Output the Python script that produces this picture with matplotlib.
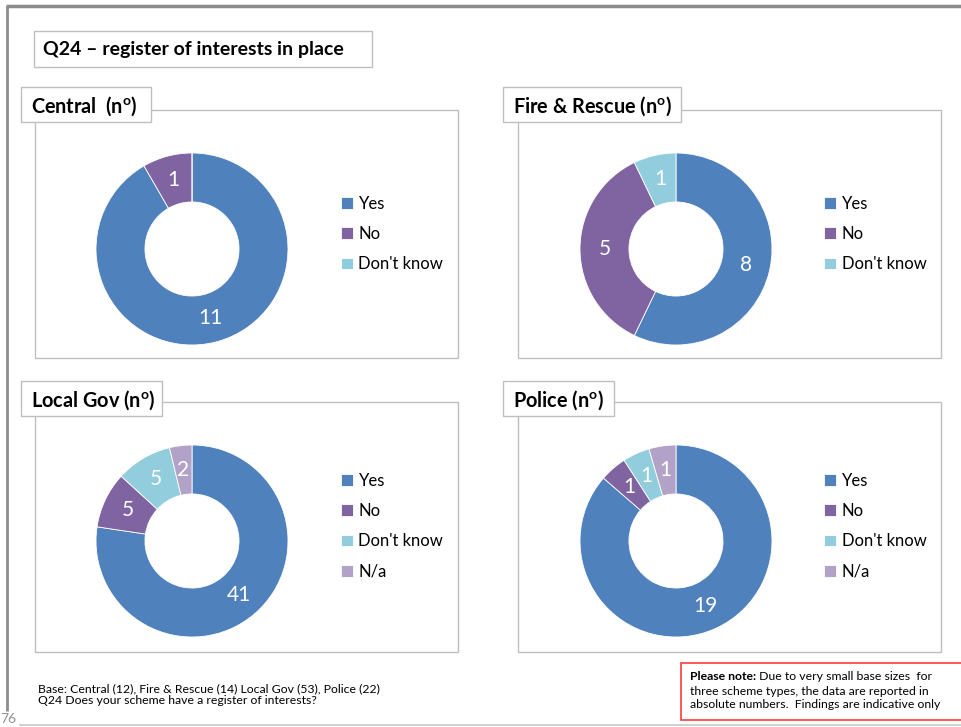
import matplotlib
matplotlib.use("Agg")
import matplotlib.pyplot as plt
from matplotlib.patches import Rectangle

plt.rcParams['font.family'] = ['Lato', 'DejaVu Sans']
plt.rcParams['mathtext.fontset'] = 'custom'
plt.rcParams['mathtext.rm'] = 'Lato'
plt.rcParams['mathtext.bf'] = 'Lato:bold'

# ---------------- data ----------------
title = "Q24 \u2013 register of interests in place"
panel_titles = ["Central  (n$^{\\mathbf{o}}$)", "Fire & Rescue (n$^{\\mathbf{o}}$)",
                "Local Gov (n$^{\\mathbf{o}}$)", "Police (n$^{\\mathbf{o}}$)"]
categories_3 = ["Yes", "No", "Don't know"]
categories_4 = ["Yes", "No", "Don't know", "N/a"]
central = [11, 1, 0]
fire_rescue = [8, 5, 1]
local_gov = [41, 5, 5, 2]
police = [19, 1, 1, 1]
colors = ["#4F81BD", "#8064A2", "#92CDDD", "#B3A2C7"]
base_text = "Base: Central (12), Fire & Rescue (14) Local Gov (53), Police (22)\nQ24 Does your scheme have a register of interests?"
note_bold = "Please note:"
note_text = " Due to very small base sizes  for\nthree scheme types, the data are reported in\nabsolute numbers.  Findings are indicative only"
page_no = "76"

W, H = 961, 727
fig = plt.figure(figsize=(W / 100, H / 100), dpi=100)
bg = fig.add_axes([0, 0, 1, 1], zorder=0)
bg.set_xlim(0, W)
bg.set_ylim(H, 0)
bg.axis("off")

# outer frame
bg.plot([7, 7], [6, 711], color="#8C8C8C", lw=2, solid_capstyle="butt")
bg.plot([6, W], [6, 6], color="#8C8C8C", lw=2.5, solid_capstyle="butt")
bg.plot([20, W], [725, 725], color="#C8C8C8", lw=1.2)
bg.text(0, 725, page_no, color="#909090", fontsize=10, va="bottom", ha="left")

# title box
bg.add_patch(Rectangle((34, 31), 338, 36, facecolor="white", edgecolor="#BFBFBF", lw=1))
bg.text(43, 49.5, title, fontsize=14, fontweight="bold", va="center", ha="left")

panels = [
    dict(data=central, cats=categories_3, title=panel_titles[0], box=(35, 110, 423, 248),
         hdr=(21, 87, 130, 35), center=(192, 249)),
    dict(data=fire_rescue, cats=categories_3, title=panel_titles[1], box=(518, 110, 423, 248),
         hdr=(503, 87, 178, 35), center=(676, 249)),
    dict(data=local_gov, cats=categories_4, title=panel_titles[2], box=(35, 402, 423, 250),
         hdr=(21, 381, 141, 35), center=(192, 541)),
    dict(data=police, cats=categories_4, title=panel_titles[3], box=(518, 402, 423, 250),
         hdr=(503, 381, 111, 35), center=(676, 541)),
]

R = 96
for p in panels:
    x, y, w, h = p["box"]
    bg.add_patch(Rectangle((x, y), w, h, facecolor="white", edgecolor="#BFBFBF", lw=1))
    hx, hy, hw, hh = p["hdr"]
    bg.add_patch(Rectangle((hx, hy), hw, hh, facecolor="white", edgecolor="#BFBFBF", lw=1))
    bg.text(hx + 10, hy + hh / 2 + 1.5, p["title"], fontsize=14.3, fontweight="bold",
            va="center", ha="left")

    cx, cy = p["center"]
    ax = fig.add_axes([(cx - R) / W, 1 - (cy + R) / H, 2 * R / W, 2 * R / H], zorder=2)
    vals = p["data"]
    total = sum(vals)
    wedges, _t, autot = ax.pie(
        vals, colors=colors[:len(vals)], startangle=90, counterclock=False,
        radius=1.0, wedgeprops=dict(width=0.51, edgecolor="white", linewidth=0.6),
        autopct=lambda pct, t=total: f"{round(pct * t / 100)}" if pct > 0 else "",
        pctdistance=0.745, textprops=dict(color="white", fontsize=15))
    ax.set_xlim(-1, 1)
    ax.set_ylim(-1, 1)
    ax.set_aspect("equal")
    ax.axis("off")

    leg = ax.legend(wedges, p["cats"], loc="center left",
                    bbox_to_anchor=(x + 306, cy - 15), bbox_transform=bg.transData,
                    frameon=False, fontsize=12, handlelength=0.7, handleheight=0.7,
                    handletextpad=0.35, labelspacing=0.86, borderpad=0, borderaxespad=0)

# base text
bg.text(38, 694.5, base_text, fontsize=8.8, va="center", ha="left", linespacing=1.1)

# note box
bg.add_patch(Rectangle((681, 663), 290, 57, facecolor="white", edgecolor="#FF3B3B", lw=1.2,
                       clip_on=False))
nt = bg.text(690, 671, note_bold, fontsize=8.8, fontweight="bold", va="top", ha="left")
bg.annotate(note_text.split("\n")[0], xycoords=nt, xy=(1, 0), va="bottom", ha="left",
            fontsize=8.8)
bg.text(690, 686, "\n".join(note_text.split("\n")[1:]), fontsize=8.8, va="top", ha="left",
        linespacing=1.25)

fig.savefig("out.png", dpi=100)
